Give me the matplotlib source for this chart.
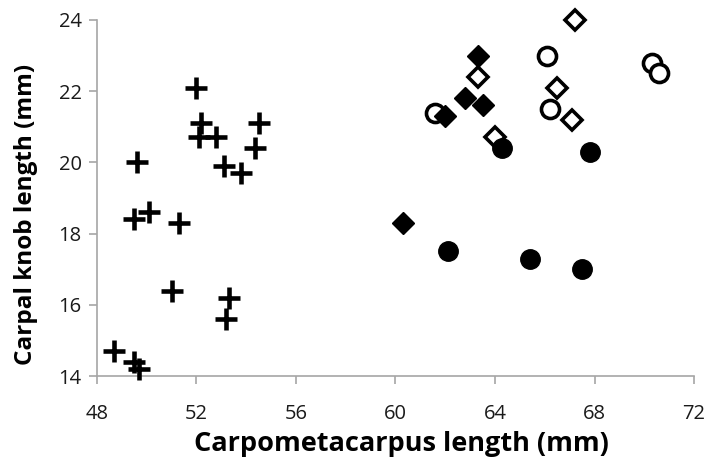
import matplotlib
matplotlib.use("Agg")
import matplotlib.pyplot as plt

plt.rcParams['font.family'] = ['Open Sans', 'DejaVu Sans']

# Group 1: plus markers
plus_x = [52.0, 52.2, 52.1, 52.8, 54.5, 54.35, 53.1, 53.8, 49.6, 49.5, 50.1, 51.3,
          51.0, 53.3, 53.2, 48.7, 49.5, 49.7]
plus_y = [22.1, 21.1, 20.7, 20.7, 21.1, 20.4, 19.9, 19.7, 20.0, 18.4, 18.6, 18.3,
          16.4, 16.2, 15.6, 14.7, 14.4, 14.2]

# Group 2: open circles
ocirc_x = [66.1, 70.3, 70.6, 66.2, 61.6]
ocirc_y = [23.0, 22.8, 22.5, 21.5, 21.4]

# Group 3: open diamonds
odia_x = [67.2, 63.3, 66.5, 67.1, 64.0]
odia_y = [24.0, 22.4, 22.1, 21.2, 20.7]

# Group 4: filled diamonds
fdia_x = [63.3, 62.8, 63.5, 62.0, 60.3]
fdia_y = [23.0, 21.8, 21.6, 21.3, 18.3]

# Group 5: filled circles
fcirc_x = [64.3, 67.8, 62.1, 65.4, 67.5]
fcirc_y = [20.4, 20.3, 17.5, 17.3, 17.0]

x_ticks = [48, 52, 56, 60, 64, 68, 72]
y_ticks = [14, 16, 18, 20, 22, 24]

fig = plt.figure(figsize=(7.18, 4.75), dpi=100)
ax = fig.add_axes([0.135, 0.2084, 0.8316, 0.7496])

ax.plot(plus_x, plus_y, linestyle='none', marker='+', ms=15.5, mew=3.3, color='black', clip_on=False, zorder=3)
ax.plot(ocirc_x, ocirc_y, linestyle='none', marker='o', ms=13, mew=2.6, mfc='white', mec='black', clip_on=False, zorder=3)
ax.plot(odia_x, odia_y, linestyle='none', marker='D', ms=10.5, mew=2.6, mfc='white', mec='black', clip_on=False, zorder=4)
ax.plot(fdia_x, fdia_y, linestyle='none', marker='D', ms=11.5, mew=1, mfc='black', mec='black', clip_on=False, zorder=5)
ax.plot(fcirc_x, fcirc_y, linestyle='none', marker='o', ms=14, mew=1, mfc='black', mec='black', clip_on=False, zorder=6)

ax.set_xlim(48, 72)
ax.set_ylim(14, 24)
ax.set_xticks(x_ticks)
ax.set_yticks(y_ticks)

for s in ['top', 'right']:
    ax.spines[s].set_visible(False)
for s in ['left', 'bottom']:
    ax.spines[s].set_color('#a6a6a6')
    ax.spines[s].set_linewidth(1.2)

ax.tick_params(axis='both', direction='out', length=6, width=1.2, color='#a6a6a6',
               labelsize=14.5, labelcolor='#1a1a1a')
ax.tick_params(axis='x', pad=14)
ax.tick_params(axis='y', pad=5)

ax.set_xlabel('Carpometacarpus length (mm)', fontsize=19.5, fontweight='bold')
ax.xaxis.set_label_coords(0.51, -0.155)
ax.set_ylabel('Carpal knob length (mm)', fontsize=17.5, fontweight='bold')
ax.yaxis.set_label_coords(-0.098, 0.455)

fig.savefig('out.png', dpi=100)
